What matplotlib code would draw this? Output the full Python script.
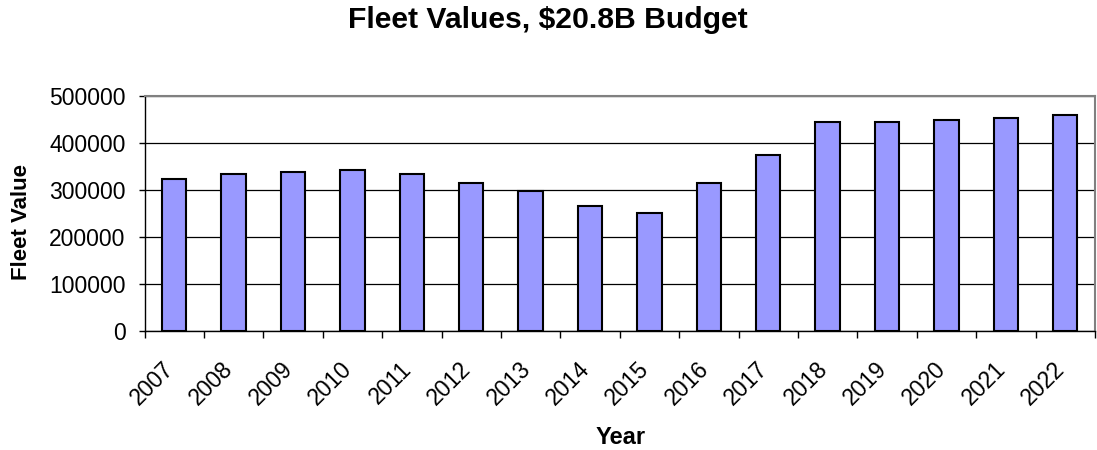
import matplotlib
matplotlib.use("Agg")
import matplotlib.pyplot as plt
import matplotlib.transforms as mtransforms
import numpy as np

plt.rcParams['font.family'] = ['Liberation Sans', 'DejaVu Sans']

years = ['2007', '2008', '2009', '2010', '2011', '2012', '2013', '2014',
         '2015', '2016', '2017', '2018', '2019', '2020', '2021', '2022']
fleet_values = [322500, 334500, 339000, 342000, 334500, 315000, 298000, 267000,
                252000, 315000, 374000, 445000, 445000, 449000, 453000, 460000]
y_ticks = [0, 100000, 200000, 300000, 400000, 500000]

W, H = 1097, 450
fig = plt.figure(figsize=(W/100, H/100), dpi=100)
ax = fig.add_axes([144.5/W, 1 - 331/H, (1095 - 144.5)/W, (331 - 96)/H])

x = np.arange(len(years))
ax.bar(x, fleet_values, width=0.41, color='#9999FF', edgecolor='black', linewidth=1.5, zorder=3)

ax.set_xlim(-0.5, len(years) - 0.5)
ax.set_ylim(0, 500000)
ax.set_yticks(y_ticks)
ax.set_yticklabels([str(v) for v in y_ticks], fontsize=16.5)
ax.yaxis.grid(True, color='black', linewidth=0.9, zorder=0)

ax.set_xticks(x)
ax.set_xticklabels(years, rotation=45, ha='right', va='top', rotation_mode='anchor', fontsize=16.5)
ax.tick_params(axis='x', length=0, pad=19)
offset = mtransforms.ScaledTranslation(-12/100, 0, fig.dpi_scale_trans)
for lbl in ax.get_xticklabels():
    lbl.set_transform(lbl.get_transform() + offset)
ax.set_xticks(np.arange(-0.5, len(years), 1), minor=True)
ax.tick_params(axis='x', which='minor', length=5, width=1, color='black', direction='out')
ax.tick_params(axis='y', length=4.5, width=1, direction='out', pad=9)

for s in ['top', 'right']:
    ax.spines[s].set_color('#808080')
    ax.spines[s].set_linewidth(1.5)
for s in ['left', 'bottom']:
    ax.spines[s].set_color('black')
    ax.spines[s].set_linewidth(1)

fig.text(22/W, 1 - 222/H, 'Fleet Value', fontsize=16, fontweight='bold',
         rotation=90, ha='center', va='center')
fig.text(621/W, 1 - 437/H, 'Year', fontsize=17, fontweight='bold', ha='center', va='center')
fig.text(548/W, 1 - 20/H, 'Fleet Values, $20.8B Budget', fontsize=21.7, fontweight='bold',
         ha='center', va='center')

fig.savefig('out.png', dpi=100)
